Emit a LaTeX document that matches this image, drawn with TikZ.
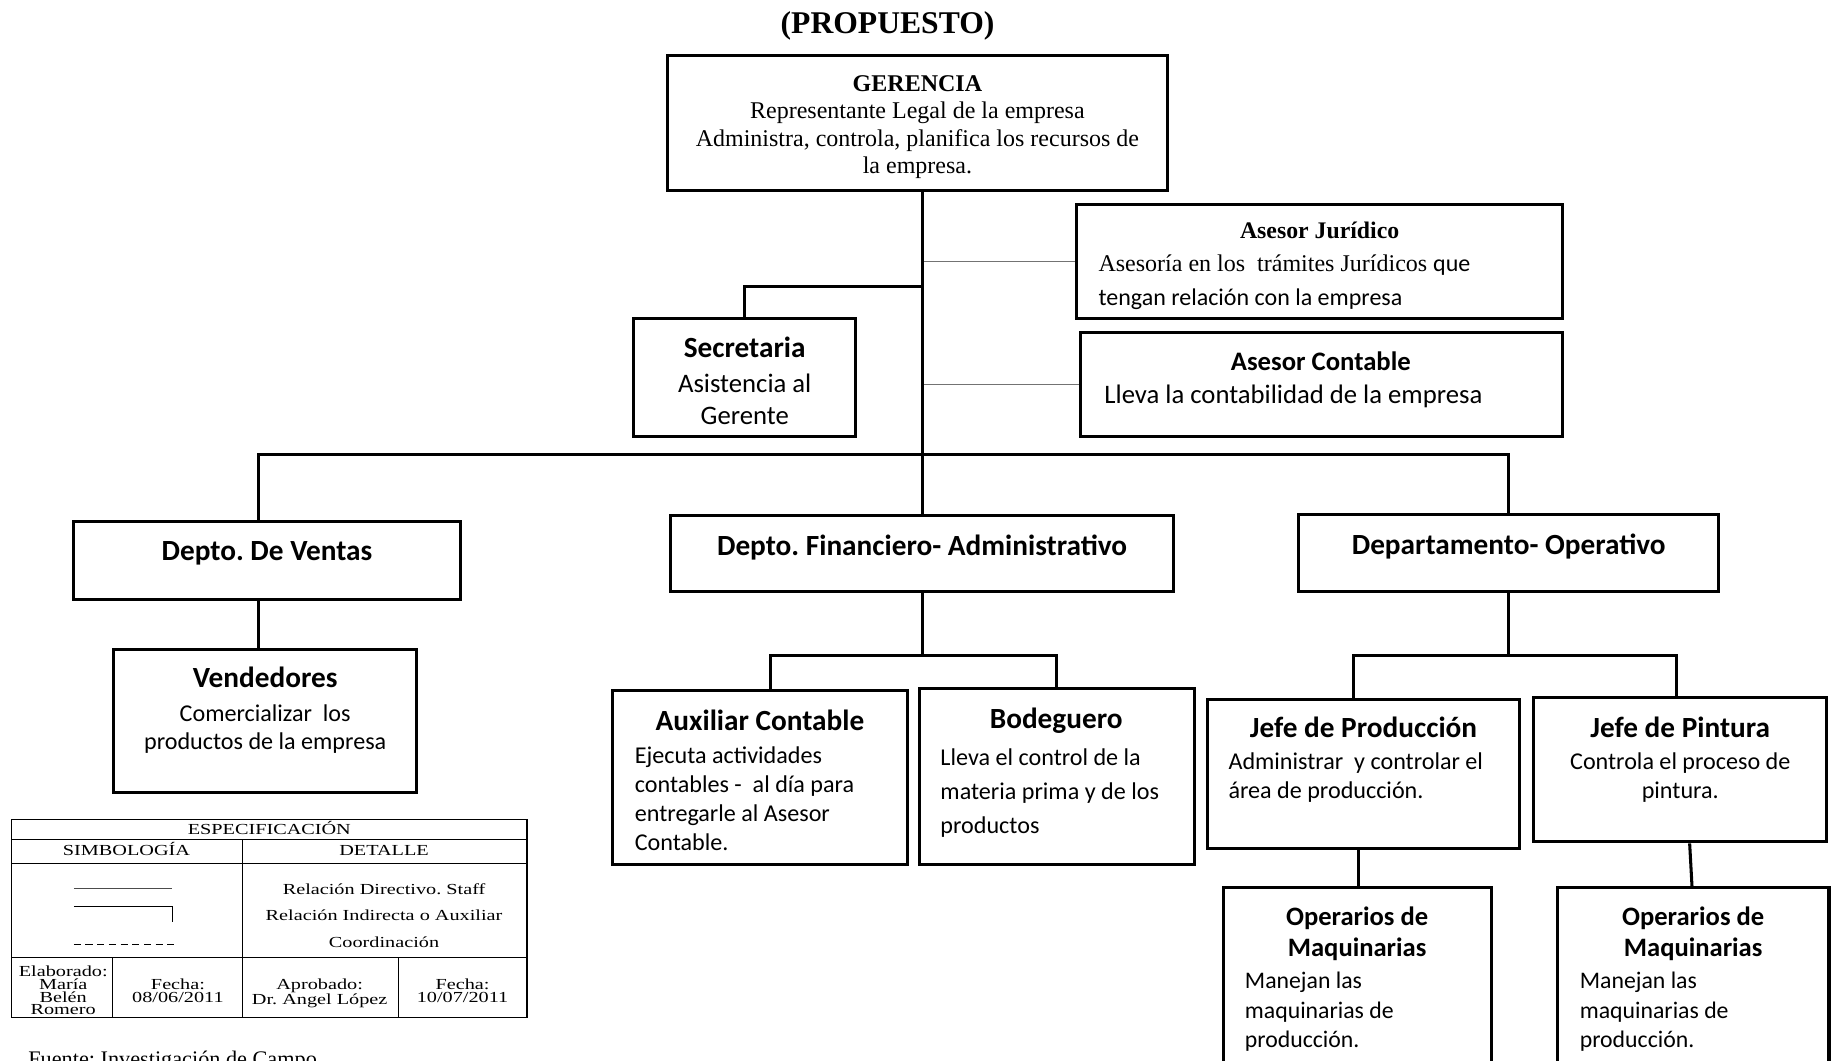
\documentclass[tikz,border=0pt]{standalone}
\usepackage{fontspec}
\setmainfont{Liberation Serif}
\newfontfamily\calib{Carlito}
\newfontfamily\tabfont[FakeStretch=1.32]{Liberation Serif}
\usetikzlibrary{fit}
\frenchspacing

% font size shortcut and a first-line strut of exactly 1em
\newcommand\fs[2]{\fontsize{#1}{#2}\selectfont}
\newcommand\fl{\rule{0pt}{1em}}

\tikzset{
  box/.style={draw, line width=2.6pt, inner sep=0pt},
  conn/.style={line width=2.6pt},
  staff/.style={line width=0.9pt, black!55},
  txt/.style={inner sep=0pt},
  head/.style={txt, font=\calib\bfseries\fs{25}{29}, anchor=base},
  body/.style={txt, font=\calib\fs{20.6}{25}},
  tline/.style={line width=0.8pt},
  ttxt/.style={txt, font=\tabfont\fs{13.1}{11}},
}

\begin{document}
\begin{tikzpicture}[x=1pt, y=-1pt]
\useasboundingbox (0,0) rectangle (1568,906);
\clip (0,0) rectangle (1568,906);

% heading
\node[txt, font=\bfseries\fs{27}{30}] (title) at (758,22) {(PROPUESTO)};

% boxes of the chart
\node[box, fit={(570,47) (997,163)}] (ger) {};
\node[box, fit={(919,175) (1334,272)}] (jur) {};
\node[box, fit={(923,284) (1334,373)}] (aco) {};
\node[box, fit={(541,272) (731,373)}] (sec) {};
\node[box, fit={(63,445) (393,512)}] (ven) {};
\node[box, fit={(573,440) (1002,505)}] (fin) {};
\node[box, fit={(1109,439) (1468,505)}] (ope) {};
\node[box, fit={(97,555) (356,677)}] (vnd) {};
\node[box, fit={(523,590) (775,738)}] (aux) {};
\node[box, fit={(785,588) (1020,738)}] (bod) {};
\node[box, fit={(1031,597) (1298,725)}] (jpr) {};
\node[box, fit={(1310,596) (1560,719)}] (jpi) {};
\node[box, fit={(1045,758) (1274,940)}] (op1) {};
\node[box, fit={(1330,758) (1562,940)}] (op2) {};

% texts inside the boxes
\node[txt, font=\fs{20.5}{23.5}, align=center, anchor=north] (gerT) at (783.5,57.3)
  {\fl\textbf{GERENCIA}\\Representante Legal de la empresa\\Administra, controla, planifica los recursos de\\la empresa.};

\node[txt, font=\bfseries\fs{20.3}{23}, anchor=base] (jurH) at (1127,203.7) {Asesor Jurídico};
\node[txt, font=\fs{20.5}{29}, align=left, anchor=north west] (jurB) at (938,211.2)
  {\fl Asesoría en los\ \ trámites Jurídicos {\calib que}\\{\calib tengan relación con la empresa}};

\node[head, font=\calib\bfseries\fs{22.8}{26}] (acoH) at (1128,316.8) {Asesor Contable};
\node[txt, font=\calib\fs{22.8}{26}, anchor=base west] (acoB) at (943,344.2) {Lleva la contabilidad de la empresa};

\node[head] (secH) at (636,305.5) {Secretaria};
\node[txt, font=\calib\fs{22.8}{27}, align=center, anchor=north] (secB) at (636,312.4) {\fl Asistencia al\\Gerente};

\node[head] (venH) at (228,478.5) {Depto. De Ventas};
\node[head] (finH) at (787.5,474.5) {Depto. Financiero- Administrativo};
\node[head] (opeH) at (1288.5,473.5) {Departamento- Operativo};

\node[head] (vndH) at (226.5,587.5) {Vendedores};
\node[body, font=\calib\fs{20.6}{24}, align=center, anchor=north] (vndB) at (226.5,595.1)
  {\fl Comercializar\ \ los\\productos de la empresa};

\node[head] (auxH) at (649,623.5) {Auxiliar Contable};
\node[body, font=\calib\fs{20.6}{24.7}, align=left, anchor=north west] (auxB) at (542,631.1)
  {\fl Ejecuta actividades\\contables -\ \ al día para\\entregarle al Asesor\\Contable.};

\node[head] (bodH) at (902,622.5) {Bodeguero};
\node[body, font=\calib\fs{20.6}{29}, align=left, anchor=north west] (bodB) at (803,633.1)
  {\fl Lleva el control de la\\materia prima y de los\\productos};

\node[head] (jprH) at (1164.5,629.5) {Jefe de Producción};
\node[body, align=left, anchor=north west] (jprB) at (1049,636.1)
  {\fl Administrar\ \ y controlar el\\área de producción.};

\node[head] (jpiH) at (1435,629.5) {Jefe de Pintura};
\node[body, align=center, anchor=north] (jpiB) at (1435,636.1)
  {\fl Controla el proceso de\\pintura.};

\node[txt, font=\calib\bfseries\fs{22.7}{27}, align=center, anchor=north] (op1H) at (1159,767.3)
  {\fl Operarios de\\Maquinarias};
\node[body, font=\calib\fs{20.3}{25.5}, align=left, anchor=north west] (op1B) at (1063,823.4)
  {\fl Manejan las\\maquinarias de\\producción.};

\node[txt, font=\calib\bfseries\fs{22.7}{27}, align=center, anchor=north] (op2H) at (1446,767.3)
  {\fl Operarios de\\Maquinarias};
\node[body, font=\calib\fs{20.3}{25.5}, align=left, anchor=north west] (op2B) at (1349,823.4)
  {\fl Manejan las\\maquinarias de\\producción.};

% line positions of the connectors
\coordinate (jS) at (787.5,245);
\coordinate (xV) at (221,388);
\coordinate (fB) at (0,560);
\coordinate (xA) at (658,560);
\coordinate (xB) at (902,560);
\coordinate (xP) at (1156,560);
\coordinate (xQ) at (1432,560);
\coordinate (xO) at (1160,0);
\coordinate (xR) at (1443,0);
\coordinate (xS) at (1445,0);

% staff relations
\draw[staff] (jur.west) -- (jur.west -| fin.north);
\draw[staff] (aco.west) -- (aco.west -| fin.north);

% line of authority
\draw[conn] (ger.south -| fin.north) -- (fin.north);
\draw[conn] (sec.north) |- (jS);
\draw[conn] (xV |- ven.north) -- (xV) -- (ope.north |- xV) -- (ope.north);
\draw[conn] (xV |- ven.south) -- (xV |- vnd.north);
\draw[conn] (fin.south) -- (fin.south |- fB);
\draw[conn] (xA |- aux.north) -- (xA) -- (xB) -- (xB |- bod.north);
\draw[conn] (ope.south) -- (ope.south |- xP);
\draw[conn] (xP |- jpr.north) -- (xP) -- (xQ) -- (xQ |- jpi.north);
\draw[conn] (xO |- jpr.south) -- (xO |- op1.north);
\draw[conn] (xR |- jpi.south) -- (xS |- op2.north);

% legend table
\draw[line width=1.2pt] (10,700) rectangle (450,869);
\draw[tline] (10,717) -- (450,717);
\draw[tline] (10,737) -- (450,737);
\draw[tline] (10,818) -- (450,818);
\draw[tline] (207,717) -- (207,869);
\draw[tline] (96,818) -- (96,869);
\draw[tline] (340,818) -- (340,869);

\node[ttxt, anchor=base] (tEsp) at (230,713) {ESPECIFICACIÓN};
\node[ttxt, anchor=base] (tSim) at (108,731) {SIMBOLOGÍA};
\node[ttxt, anchor=base] (tDet) at (328,731) {DETALLE};

\draw[line width=0.9pt, black!70] (63,759) -- (147,759);
\draw[line width=0.9pt] (63,774) -- (147,774) -- (147,787);
\draw[line width=0.9pt, dash pattern=on 6pt off 4pt] (63,807) -- (152,807);

\node[ttxt, anchor=base] (tRd) at (328,763.5) {Relación Directivo. Staff};
\node[ttxt, anchor=base] (tRi) at (328,786.5) {Relación Indirecta o Auxiliar};
\node[ttxt, anchor=base] (tCo) at (328,809.5) {Coordinación};

\node[ttxt, align=center, anchor=north] (tEl) at (54,820.5) {\fl Elaborado:\\María\\Belén\\Romero};
\node[ttxt, align=center, anchor=north] (tF1) at (152,831.5) {\fl Fecha:\\08/06/2011};
\node[ttxt, align=center, anchor=north] (tAp) at (273,831.5) {\fl Aprobado:\\Dr. Angel López};
\node[ttxt, align=center, anchor=north] (tF2) at (395,831.5) {\fl Fecha:\\10/07/2011};

% source note
\node[txt, font=\fs{19}{22}, anchor=base west] (fuente) at (24,911) {Fuente: Investigación de Campo};
\end{tikzpicture}
\end{document}
